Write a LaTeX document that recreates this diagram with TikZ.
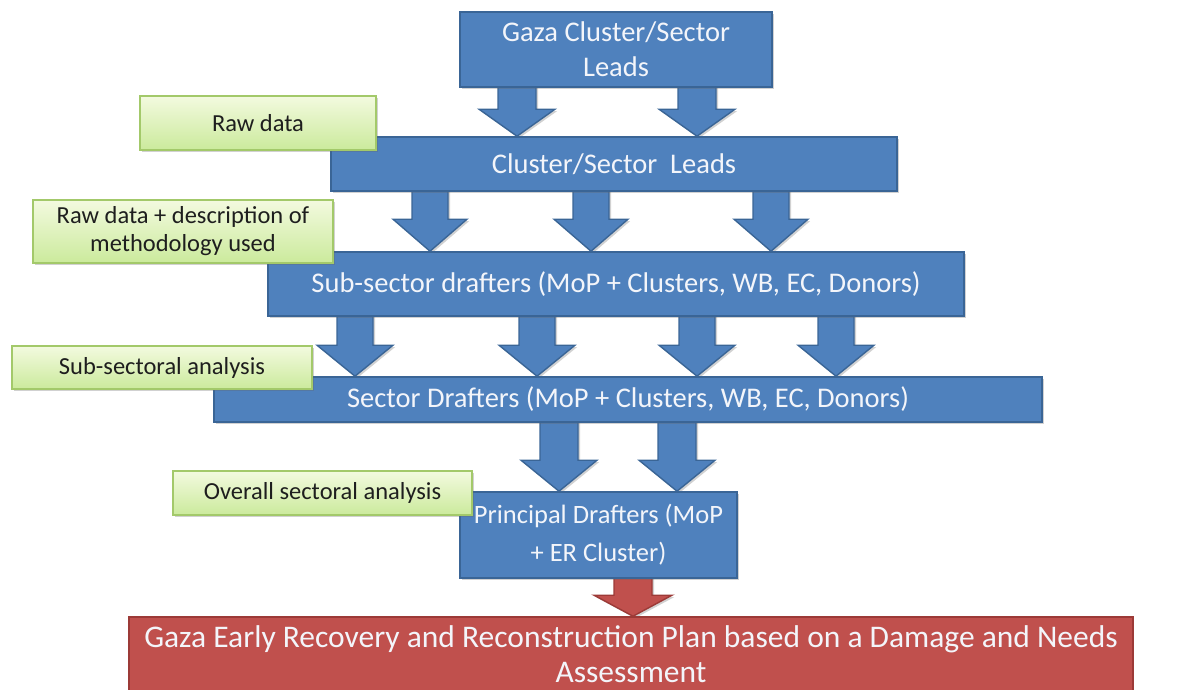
\documentclass[tikz,border=0pt]{standalone}
\usepackage{fontspec}
\setmainfont{Carlito}
\usetikzlibrary{calc,shadows}
\definecolor{bluefill}{HTML}{4F81BD}
\definecolor{blueline}{HTML}{3A6596}
\definecolor{redfill}{HTML}{C0504D}
\definecolor{redline}{HTML}{9C3A37}
\definecolor{greentop}{HTML}{F3FADF}
\definecolor{greenbot}{HTML}{CBEA9C}
\definecolor{greenline}{HTML}{A3C96A}
\definecolor{boxtext}{HTML}{F3F5FA}
\definecolor{notetext}{HTML}{1E1E1E}
\pgfdeclarelayer{bg}
\pgfsetlayers{bg,main}
\tikzset{
  shad/.style={drop shadow={shadow xshift=2pt,shadow yshift=-2pt,opacity=0.3,fill=black!60}},
  bluebox/.style={draw=blueline, line width=1.6pt, fill=bluefill, text=boxtext,
    align=center, inner sep=0pt, shad, font=\fontsize{28.5}{35}\selectfont},
  redbox/.style={draw=redline, line width=1.6pt, fill=redfill, text=boxtext,
    align=center, inner sep=0pt, font=\fontsize{31.5}{35}\selectfont},
  notebox/.style={draw=greenline, line width=1.2pt, top color=greentop, bottom color=greenbot,
    text=notetext, align=center, inner sep=0pt, shad, font=\fontsize{24.5}{28}\selectfont},
  bluearrow/.style={fill=bluefill, draw=blueline, line width=1.4pt, shad},
  redarrow/.style={fill=redfill, draw=redline, line width=1.4pt, shad},
}
% #1 style, #2 x, #3 from node, #4 to node, #5 head height, #6 shaft half width, #7 head half width
\newcommand\blockarrow[7]{%
  \path[#1] let \p1=(#3.south), \p2=(#4.north) in
    (#2pt-#6pt,\y1+4pt) -- (#2pt+#6pt,\y1+4pt) -- (#2pt+#6pt,\y2+#5pt)
    -- (#2pt+#7pt,\y2+#5pt) -- (#2pt,\y2) -- (#2pt-#7pt,\y2+#5pt)
    -- (#2pt-#6pt,\y2+#5pt) -- cycle;}
\begin{document}
\begin{tikzpicture}[x=1pt,y=-1pt]
\useasboundingbox (0,0) rectangle (1188,689);
\clip (0,0) rectangle (1188,689);
% blue boxes
\node[bluebox, minimum width=312pt, minimum height=75pt] (g1) at (616,49.5) {Gaza Cluster/Sector\\Leads};
\node[bluebox, minimum width=566pt, minimum height=54pt] (g2) at (614,164) {Cluster/Sector\ \ Leads};
\node[bluebox, minimum width=696pt, minimum height=64pt] (g3) at (616,284) {Sub-sector drafters (MoP + Clusters, WB, EC, Donors)};
\node[bluebox, minimum width=828pt, minimum height=45pt] (g4) at (628,399.5) {Sector Drafters (MoP + Clusters, WB, EC, Donors)};
\node[bluebox, minimum width=277pt, minimum height=86pt, font=\fontsize{26.5}{38}\selectfont] (g5) at (598.5,535) {Principal Drafters (MoP\\+ ER Cluster)};
% red box, running to the bottom edge as in the reference
\node[redbox, minimum width=1004pt, minimum height=74pt] (plan) at (631,654) {Gaza Early Recovery and Reconstruction Plan based on a Damage and Needs\\Assessment};
% block arrows (behind boxes)
\begin{pgfonlayer}{bg}
\blockarrow{bluearrow}{517}{g1}{g2}{27}{19}{38}
\blockarrow{bluearrow}{697}{g1}{g2}{27}{19}{38}
\blockarrow{bluearrow}{430}{g2}{g3}{32}{18}{37}
\blockarrow{bluearrow}{591}{g2}{g3}{32}{18}{37}
\blockarrow{bluearrow}{771}{g2}{g3}{32}{18}{37}
\blockarrow{bluearrow}{355}{g3}{g4}{31}{18}{38}
\blockarrow{bluearrow}{537}{g3}{g4}{31}{18}{38}
\blockarrow{bluearrow}{697}{g3}{g4}{31}{18}{38}
\blockarrow{bluearrow}{836}{g3}{g4}{31}{18}{38}
\blockarrow{bluearrow}{559}{g4}{g5}{31}{19}{38}
\blockarrow{bluearrow}{677}{g4}{g5}{31}{19}{38}
\blockarrow{redarrow}{633}{g5}{plan}{21}{19}{39}
\end{pgfonlayer}
% notes
\node[notebox, minimum width=236pt, minimum height=54pt] (n1) at (258,123) {Raw data};
\node[notebox, minimum width=300pt, minimum height=63pt] (n2) at (183,231.5) {Raw data + description of\\methodology used};
\node[notebox, minimum width=300pt, minimum height=43pt] (n3) at (162,367.5) {Sub-sectoral analysis};
\node[notebox, minimum width=299pt, minimum height=44pt] (n4) at (322.5,493) {Overall sectoral analysis};
\end{tikzpicture}
\end{document}
